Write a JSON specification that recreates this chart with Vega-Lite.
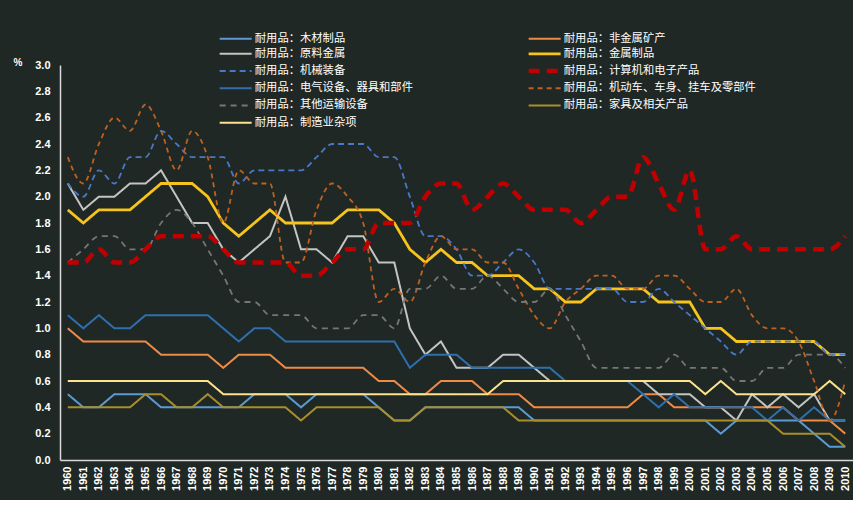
{
"$schema":"https://vega.github.io/schema/vega-lite/v6.json",
"width":793,"height":395,
"autosize":{"type":"none"},
"padding":{"left":60,"top":65,"right":0,"bottom":40},
"background":"#1f2824",
"config":{"view":{"stroke":null},"font":"Noto Sans CJK SC","axis":{"labelFont":"Liberation Sans"}},
"data":{"values":[
{"year":1960,"s":"耐用品：木材制品","v":0.5},{"year":1961,"s":"耐用品：木材制品","v":0.4},{"year":1962,"s":"耐用品：木材制品","v":0.4},{"year":1963,"s":"耐用品：木材制品","v":0.5},{"year":1964,"s":"耐用品：木材制品","v":0.5},{"year":1965,"s":"耐用品：木材制品","v":0.5},{"year":1966,"s":"耐用品：木材制品","v":0.4},{"year":1967,"s":"耐用品：木材制品","v":0.4},{"year":1968,"s":"耐用品：木材制品","v":0.4},{"year":1969,"s":"耐用品：木材制品","v":0.4},{"year":1970,"s":"耐用品：木材制品","v":0.4},{"year":1971,"s":"耐用品：木材制品","v":0.4},{"year":1972,"s":"耐用品：木材制品","v":0.5},{"year":1973,"s":"耐用品：木材制品","v":0.5},{"year":1974,"s":"耐用品：木材制品","v":0.5},{"year":1975,"s":"耐用品：木材制品","v":0.4},{"year":1976,"s":"耐用品：木材制品","v":0.5},{"year":1977,"s":"耐用品：木材制品","v":0.5},{"year":1978,"s":"耐用品：木材制品","v":0.5},{"year":1979,"s":"耐用品：木材制品","v":0.5},{"year":1980,"s":"耐用品：木材制品","v":0.4},{"year":1981,"s":"耐用品：木材制品","v":0.3},{"year":1982,"s":"耐用品：木材制品","v":0.3},{"year":1983,"s":"耐用品：木材制品","v":0.4},{"year":1984,"s":"耐用品：木材制品","v":0.4},{"year":1985,"s":"耐用品：木材制品","v":0.4},{"year":1986,"s":"耐用品：木材制品","v":0.4},{"year":1987,"s":"耐用品：木材制品","v":0.4},{"year":1988,"s":"耐用品：木材制品","v":0.4},{"year":1989,"s":"耐用品：木材制品","v":0.4},{"year":1990,"s":"耐用品：木材制品","v":0.3},{"year":1991,"s":"耐用品：木材制品","v":0.3},{"year":1992,"s":"耐用品：木材制品","v":0.3},{"year":1993,"s":"耐用品：木材制品","v":0.3},{"year":1994,"s":"耐用品：木材制品","v":0.3},{"year":1995,"s":"耐用品：木材制品","v":0.3},{"year":1996,"s":"耐用品：木材制品","v":0.3},{"year":1997,"s":"耐用品：木材制品","v":0.3},{"year":1998,"s":"耐用品：木材制品","v":0.3},{"year":1999,"s":"耐用品：木材制品","v":0.3},{"year":2000,"s":"耐用品：木材制品","v":0.3},{"year":2001,"s":"耐用品：木材制品","v":0.3},{"year":2002,"s":"耐用品：木材制品","v":0.2},{"year":2003,"s":"耐用品：木材制品","v":0.3},{"year":2004,"s":"耐用品：木材制品","v":0.3},{"year":2005,"s":"耐用品：木材制品","v":0.3},{"year":2006,"s":"耐用品：木材制品","v":0.3},{"year":2007,"s":"耐用品：木材制品","v":0.3},{"year":2008,"s":"耐用品：木材制品","v":0.2},{"year":2009,"s":"耐用品：木材制品","v":0.1},{"year":2010,"s":"耐用品：木材制品","v":0.1},
{"year":1960,"s":"耐用品：非金属矿产","v":1.0},{"year":1961,"s":"耐用品：非金属矿产","v":0.9},{"year":1962,"s":"耐用品：非金属矿产","v":0.9},{"year":1963,"s":"耐用品：非金属矿产","v":0.9},{"year":1964,"s":"耐用品：非金属矿产","v":0.9},{"year":1965,"s":"耐用品：非金属矿产","v":0.9},{"year":1966,"s":"耐用品：非金属矿产","v":0.8},{"year":1967,"s":"耐用品：非金属矿产","v":0.8},{"year":1968,"s":"耐用品：非金属矿产","v":0.8},{"year":1969,"s":"耐用品：非金属矿产","v":0.8},{"year":1970,"s":"耐用品：非金属矿产","v":0.7},{"year":1971,"s":"耐用品：非金属矿产","v":0.8},{"year":1972,"s":"耐用品：非金属矿产","v":0.8},{"year":1973,"s":"耐用品：非金属矿产","v":0.8},{"year":1974,"s":"耐用品：非金属矿产","v":0.7},{"year":1975,"s":"耐用品：非金属矿产","v":0.7},{"year":1976,"s":"耐用品：非金属矿产","v":0.7},{"year":1977,"s":"耐用品：非金属矿产","v":0.7},{"year":1978,"s":"耐用品：非金属矿产","v":0.7},{"year":1979,"s":"耐用品：非金属矿产","v":0.7},{"year":1980,"s":"耐用品：非金属矿产","v":0.6},{"year":1981,"s":"耐用品：非金属矿产","v":0.6},{"year":1982,"s":"耐用品：非金属矿产","v":0.5},{"year":1983,"s":"耐用品：非金属矿产","v":0.5},{"year":1984,"s":"耐用品：非金属矿产","v":0.6},{"year":1985,"s":"耐用品：非金属矿产","v":0.6},{"year":1986,"s":"耐用品：非金属矿产","v":0.6},{"year":1987,"s":"耐用品：非金属矿产","v":0.5},{"year":1988,"s":"耐用品：非金属矿产","v":0.5},{"year":1989,"s":"耐用品：非金属矿产","v":0.5},{"year":1990,"s":"耐用品：非金属矿产","v":0.4},{"year":1991,"s":"耐用品：非金属矿产","v":0.4},{"year":1992,"s":"耐用品：非金属矿产","v":0.4},{"year":1993,"s":"耐用品：非金属矿产","v":0.4},{"year":1994,"s":"耐用品：非金属矿产","v":0.4},{"year":1995,"s":"耐用品：非金属矿产","v":0.4},{"year":1996,"s":"耐用品：非金属矿产","v":0.4},{"year":1997,"s":"耐用品：非金属矿产","v":0.5},{"year":1998,"s":"耐用品：非金属矿产","v":0.5},{"year":1999,"s":"耐用品：非金属矿产","v":0.4},{"year":2000,"s":"耐用品：非金属矿产","v":0.4},{"year":2001,"s":"耐用品：非金属矿产","v":0.4},{"year":2002,"s":"耐用品：非金属矿产","v":0.4},{"year":2003,"s":"耐用品：非金属矿产","v":0.4},{"year":2004,"s":"耐用品：非金属矿产","v":0.4},{"year":2005,"s":"耐用品：非金属矿产","v":0.4},{"year":2006,"s":"耐用品：非金属矿产","v":0.4},{"year":2007,"s":"耐用品：非金属矿产","v":0.3},{"year":2008,"s":"耐用品：非金属矿产","v":0.3},{"year":2009,"s":"耐用品：非金属矿产","v":0.3},{"year":2010,"s":"耐用品：非金属矿产","v":0.2},
{"year":1960,"s":"耐用品：原料金属","v":2.1},{"year":1961,"s":"耐用品：原料金属","v":1.9},{"year":1962,"s":"耐用品：原料金属","v":2.0},{"year":1963,"s":"耐用品：原料金属","v":2.0},{"year":1964,"s":"耐用品：原料金属","v":2.1},{"year":1965,"s":"耐用品：原料金属","v":2.1},{"year":1966,"s":"耐用品：原料金属","v":2.2},{"year":1967,"s":"耐用品：原料金属","v":2.0},{"year":1968,"s":"耐用品：原料金属","v":1.8},{"year":1969,"s":"耐用品：原料金属","v":1.8},{"year":1970,"s":"耐用品：原料金属","v":1.6},{"year":1971,"s":"耐用品：原料金属","v":1.5},{"year":1972,"s":"耐用品：原料金属","v":1.6},{"year":1973,"s":"耐用品：原料金属","v":1.7},{"year":1974,"s":"耐用品：原料金属","v":2.0},{"year":1975,"s":"耐用品：原料金属","v":1.6},{"year":1976,"s":"耐用品：原料金属","v":1.6},{"year":1977,"s":"耐用品：原料金属","v":1.5},{"year":1978,"s":"耐用品：原料金属","v":1.7},{"year":1979,"s":"耐用品：原料金属","v":1.7},{"year":1980,"s":"耐用品：原料金属","v":1.5},{"year":1981,"s":"耐用品：原料金属","v":1.5},{"year":1982,"s":"耐用品：原料金属","v":1.0},{"year":1983,"s":"耐用品：原料金属","v":0.8},{"year":1984,"s":"耐用品：原料金属","v":0.9},{"year":1985,"s":"耐用品：原料金属","v":0.7},{"year":1986,"s":"耐用品：原料金属","v":0.7},{"year":1987,"s":"耐用品：原料金属","v":0.7},{"year":1988,"s":"耐用品：原料金属","v":0.8},{"year":1989,"s":"耐用品：原料金属","v":0.8},{"year":1990,"s":"耐用品：原料金属","v":0.7},{"year":1991,"s":"耐用品：原料金属","v":0.6},{"year":1992,"s":"耐用品：原料金属","v":0.6},{"year":1993,"s":"耐用品：原料金属","v":0.6},{"year":1994,"s":"耐用品：原料金属","v":0.6},{"year":1995,"s":"耐用品：原料金属","v":0.6},{"year":1996,"s":"耐用品：原料金属","v":0.6},{"year":1997,"s":"耐用品：原料金属","v":0.6},{"year":1998,"s":"耐用品：原料金属","v":0.5},{"year":1999,"s":"耐用品：原料金属","v":0.5},{"year":2000,"s":"耐用品：原料金属","v":0.5},{"year":2001,"s":"耐用品：原料金属","v":0.4},{"year":2002,"s":"耐用品：原料金属","v":0.4},{"year":2003,"s":"耐用品：原料金属","v":0.3},{"year":2004,"s":"耐用品：原料金属","v":0.5},{"year":2005,"s":"耐用品：原料金属","v":0.4},{"year":2006,"s":"耐用品：原料金属","v":0.5},{"year":2007,"s":"耐用品：原料金属","v":0.4},{"year":2008,"s":"耐用品：原料金属","v":0.5},{"year":2009,"s":"耐用品：原料金属","v":0.3},{"year":2010,"s":"耐用品：原料金属","v":0.3},
{"year":1960,"s":"耐用品：金属制品","v":1.9},{"year":1961,"s":"耐用品：金属制品","v":1.8},{"year":1962,"s":"耐用品：金属制品","v":1.9},{"year":1963,"s":"耐用品：金属制品","v":1.9},{"year":1964,"s":"耐用品：金属制品","v":1.9},{"year":1965,"s":"耐用品：金属制品","v":2.0},{"year":1966,"s":"耐用品：金属制品","v":2.1},{"year":1967,"s":"耐用品：金属制品","v":2.1},{"year":1968,"s":"耐用品：金属制品","v":2.1},{"year":1969,"s":"耐用品：金属制品","v":2.0},{"year":1970,"s":"耐用品：金属制品","v":1.8},{"year":1971,"s":"耐用品：金属制品","v":1.7},{"year":1972,"s":"耐用品：金属制品","v":1.8},{"year":1973,"s":"耐用品：金属制品","v":1.9},{"year":1974,"s":"耐用品：金属制品","v":1.8},{"year":1975,"s":"耐用品：金属制品","v":1.8},{"year":1976,"s":"耐用品：金属制品","v":1.8},{"year":1977,"s":"耐用品：金属制品","v":1.8},{"year":1978,"s":"耐用品：金属制品","v":1.9},{"year":1979,"s":"耐用品：金属制品","v":1.9},{"year":1980,"s":"耐用品：金属制品","v":1.9},{"year":1981,"s":"耐用品：金属制品","v":1.8},{"year":1982,"s":"耐用品：金属制品","v":1.6},{"year":1983,"s":"耐用品：金属制品","v":1.5},{"year":1984,"s":"耐用品：金属制品","v":1.6},{"year":1985,"s":"耐用品：金属制品","v":1.5},{"year":1986,"s":"耐用品：金属制品","v":1.5},{"year":1987,"s":"耐用品：金属制品","v":1.4},{"year":1988,"s":"耐用品：金属制品","v":1.4},{"year":1989,"s":"耐用品：金属制品","v":1.4},{"year":1990,"s":"耐用品：金属制品","v":1.3},{"year":1991,"s":"耐用品：金属制品","v":1.3},{"year":1992,"s":"耐用品：金属制品","v":1.2},{"year":1993,"s":"耐用品：金属制品","v":1.2},{"year":1994,"s":"耐用品：金属制品","v":1.3},{"year":1995,"s":"耐用品：金属制品","v":1.3},{"year":1996,"s":"耐用品：金属制品","v":1.3},{"year":1997,"s":"耐用品：金属制品","v":1.3},{"year":1998,"s":"耐用品：金属制品","v":1.2},{"year":1999,"s":"耐用品：金属制品","v":1.2},{"year":2000,"s":"耐用品：金属制品","v":1.2},{"year":2001,"s":"耐用品：金属制品","v":1.0},{"year":2002,"s":"耐用品：金属制品","v":1.0},{"year":2003,"s":"耐用品：金属制品","v":0.9},{"year":2004,"s":"耐用品：金属制品","v":0.9},{"year":2005,"s":"耐用品：金属制品","v":0.9},{"year":2006,"s":"耐用品：金属制品","v":0.9},{"year":2007,"s":"耐用品：金属制品","v":0.9},{"year":2008,"s":"耐用品：金属制品","v":0.9},{"year":2009,"s":"耐用品：金属制品","v":0.8},{"year":2010,"s":"耐用品：金属制品","v":0.8},
{"year":1960,"s":"耐用品：机械装备","v":2.1},{"year":1961,"s":"耐用品：机械装备","v":2.0},{"year":1962,"s":"耐用品：机械装备","v":2.2},{"year":1963,"s":"耐用品：机械装备","v":2.1},{"year":1964,"s":"耐用品：机械装备","v":2.3},{"year":1965,"s":"耐用品：机械装备","v":2.3},{"year":1966,"s":"耐用品：机械装备","v":2.5},{"year":1967,"s":"耐用品：机械装备","v":2.4},{"year":1968,"s":"耐用品：机械装备","v":2.3},{"year":1969,"s":"耐用品：机械装备","v":2.3},{"year":1970,"s":"耐用品：机械装备","v":2.3},{"year":1971,"s":"耐用品：机械装备","v":2.1},{"year":1972,"s":"耐用品：机械装备","v":2.2},{"year":1973,"s":"耐用品：机械装备","v":2.2},{"year":1974,"s":"耐用品：机械装备","v":2.2},{"year":1975,"s":"耐用品：机械装备","v":2.2},{"year":1976,"s":"耐用品：机械装备","v":2.3},{"year":1977,"s":"耐用品：机械装备","v":2.4},{"year":1978,"s":"耐用品：机械装备","v":2.4},{"year":1979,"s":"耐用品：机械装备","v":2.4},{"year":1980,"s":"耐用品：机械装备","v":2.3},{"year":1981,"s":"耐用品：机械装备","v":2.3},{"year":1982,"s":"耐用品：机械装备","v":2.0},{"year":1983,"s":"耐用品：机械装备","v":1.7},{"year":1984,"s":"耐用品：机械装备","v":1.7},{"year":1985,"s":"耐用品：机械装备","v":1.6},{"year":1986,"s":"耐用品：机械装备","v":1.4},{"year":1987,"s":"耐用品：机械装备","v":1.4},{"year":1988,"s":"耐用品：机械装备","v":1.5},{"year":1989,"s":"耐用品：机械装备","v":1.6},{"year":1990,"s":"耐用品：机械装备","v":1.5},{"year":1991,"s":"耐用品：机械装备","v":1.3},{"year":1992,"s":"耐用品：机械装备","v":1.3},{"year":1993,"s":"耐用品：机械装备","v":1.3},{"year":1994,"s":"耐用品：机械装备","v":1.3},{"year":1995,"s":"耐用品：机械装备","v":1.3},{"year":1996,"s":"耐用品：机械装备","v":1.2},{"year":1997,"s":"耐用品：机械装备","v":1.2},{"year":1998,"s":"耐用品：机械装备","v":1.3},{"year":1999,"s":"耐用品：机械装备","v":1.2},{"year":2000,"s":"耐用品：机械装备","v":1.1},{"year":2001,"s":"耐用品：机械装备","v":1.0},{"year":2002,"s":"耐用品：机械装备","v":0.9},{"year":2003,"s":"耐用品：机械装备","v":0.8},{"year":2004,"s":"耐用品：机械装备","v":0.9},{"year":2005,"s":"耐用品：机械装备","v":0.9},{"year":2006,"s":"耐用品：机械装备","v":0.9},{"year":2007,"s":"耐用品：机械装备","v":0.9},{"year":2008,"s":"耐用品：机械装备","v":0.9},{"year":2009,"s":"耐用品：机械装备","v":0.8},{"year":2010,"s":"耐用品：机械装备","v":0.8},
{"year":1960,"s":"耐用品：计算机和电子产品","v":1.5},{"year":1961,"s":"耐用品：计算机和电子产品","v":1.5},{"year":1962,"s":"耐用品：计算机和电子产品","v":1.6},{"year":1963,"s":"耐用品：计算机和电子产品","v":1.5},{"year":1964,"s":"耐用品：计算机和电子产品","v":1.5},{"year":1965,"s":"耐用品：计算机和电子产品","v":1.6},{"year":1966,"s":"耐用品：计算机和电子产品","v":1.7},{"year":1967,"s":"耐用品：计算机和电子产品","v":1.7},{"year":1968,"s":"耐用品：计算机和电子产品","v":1.7},{"year":1969,"s":"耐用品：计算机和电子产品","v":1.7},{"year":1970,"s":"耐用品：计算机和电子产品","v":1.6},{"year":1971,"s":"耐用品：计算机和电子产品","v":1.5},{"year":1972,"s":"耐用品：计算机和电子产品","v":1.5},{"year":1973,"s":"耐用品：计算机和电子产品","v":1.5},{"year":1974,"s":"耐用品：计算机和电子产品","v":1.5},{"year":1975,"s":"耐用品：计算机和电子产品","v":1.4},{"year":1976,"s":"耐用品：计算机和电子产品","v":1.4},{"year":1977,"s":"耐用品：计算机和电子产品","v":1.5},{"year":1978,"s":"耐用品：计算机和电子产品","v":1.6},{"year":1979,"s":"耐用品：计算机和电子产品","v":1.6},{"year":1980,"s":"耐用品：计算机和电子产品","v":1.8},{"year":1981,"s":"耐用品：计算机和电子产品","v":1.8},{"year":1982,"s":"耐用品：计算机和电子产品","v":1.8},{"year":1983,"s":"耐用品：计算机和电子产品","v":2.0},{"year":1984,"s":"耐用品：计算机和电子产品","v":2.1},{"year":1985,"s":"耐用品：计算机和电子产品","v":2.1},{"year":1986,"s":"耐用品：计算机和电子产品","v":1.9},{"year":1987,"s":"耐用品：计算机和电子产品","v":2.0},{"year":1988,"s":"耐用品：计算机和电子产品","v":2.1},{"year":1989,"s":"耐用品：计算机和电子产品","v":2.0},{"year":1990,"s":"耐用品：计算机和电子产品","v":1.9},{"year":1991,"s":"耐用品：计算机和电子产品","v":1.9},{"year":1992,"s":"耐用品：计算机和电子产品","v":1.9},{"year":1993,"s":"耐用品：计算机和电子产品","v":1.8},{"year":1994,"s":"耐用品：计算机和电子产品","v":1.9},{"year":1995,"s":"耐用品：计算机和电子产品","v":2.0},{"year":1996,"s":"耐用品：计算机和电子产品","v":2.0},{"year":1997,"s":"耐用品：计算机和电子产品","v":2.3},{"year":1998,"s":"耐用品：计算机和电子产品","v":2.1},{"year":1999,"s":"耐用品：计算机和电子产品","v":1.9},{"year":2000,"s":"耐用品：计算机和电子产品","v":2.2},{"year":2001,"s":"耐用品：计算机和电子产品","v":1.6},{"year":2002,"s":"耐用品：计算机和电子产品","v":1.6},{"year":2003,"s":"耐用品：计算机和电子产品","v":1.7},{"year":2004,"s":"耐用品：计算机和电子产品","v":1.6},{"year":2005,"s":"耐用品：计算机和电子产品","v":1.6},{"year":2006,"s":"耐用品：计算机和电子产品","v":1.6},{"year":2007,"s":"耐用品：计算机和电子产品","v":1.6},{"year":2008,"s":"耐用品：计算机和电子产品","v":1.6},{"year":2009,"s":"耐用品：计算机和电子产品","v":1.6},{"year":2010,"s":"耐用品：计算机和电子产品","v":1.7},
{"year":1960,"s":"耐用品：电气设备、器具和部件","v":1.1},{"year":1961,"s":"耐用品：电气设备、器具和部件","v":1.0},{"year":1962,"s":"耐用品：电气设备、器具和部件","v":1.1},{"year":1963,"s":"耐用品：电气设备、器具和部件","v":1.0},{"year":1964,"s":"耐用品：电气设备、器具和部件","v":1.0},{"year":1965,"s":"耐用品：电气设备、器具和部件","v":1.1},{"year":1966,"s":"耐用品：电气设备、器具和部件","v":1.1},{"year":1967,"s":"耐用品：电气设备、器具和部件","v":1.1},{"year":1968,"s":"耐用品：电气设备、器具和部件","v":1.1},{"year":1969,"s":"耐用品：电气设备、器具和部件","v":1.1},{"year":1970,"s":"耐用品：电气设备、器具和部件","v":1.0},{"year":1971,"s":"耐用品：电气设备、器具和部件","v":0.9},{"year":1972,"s":"耐用品：电气设备、器具和部件","v":1.0},{"year":1973,"s":"耐用品：电气设备、器具和部件","v":1.0},{"year":1974,"s":"耐用品：电气设备、器具和部件","v":0.9},{"year":1975,"s":"耐用品：电气设备、器具和部件","v":0.9},{"year":1976,"s":"耐用品：电气设备、器具和部件","v":0.9},{"year":1977,"s":"耐用品：电气设备、器具和部件","v":0.9},{"year":1978,"s":"耐用品：电气设备、器具和部件","v":0.9},{"year":1979,"s":"耐用品：电气设备、器具和部件","v":0.9},{"year":1980,"s":"耐用品：电气设备、器具和部件","v":0.9},{"year":1981,"s":"耐用品：电气设备、器具和部件","v":0.9},{"year":1982,"s":"耐用品：电气设备、器具和部件","v":0.7},{"year":1983,"s":"耐用品：电气设备、器具和部件","v":0.8},{"year":1984,"s":"耐用品：电气设备、器具和部件","v":0.8},{"year":1985,"s":"耐用品：电气设备、器具和部件","v":0.8},{"year":1986,"s":"耐用品：电气设备、器具和部件","v":0.7},{"year":1987,"s":"耐用品：电气设备、器具和部件","v":0.7},{"year":1988,"s":"耐用品：电气设备、器具和部件","v":0.7},{"year":1989,"s":"耐用品：电气设备、器具和部件","v":0.7},{"year":1990,"s":"耐用品：电气设备、器具和部件","v":0.7},{"year":1991,"s":"耐用品：电气设备、器具和部件","v":0.7},{"year":1992,"s":"耐用品：电气设备、器具和部件","v":0.6},{"year":1993,"s":"耐用品：电气设备、器具和部件","v":0.6},{"year":1994,"s":"耐用品：电气设备、器具和部件","v":0.6},{"year":1995,"s":"耐用品：电气设备、器具和部件","v":0.6},{"year":1996,"s":"耐用品：电气设备、器具和部件","v":0.6},{"year":1997,"s":"耐用品：电气设备、器具和部件","v":0.5},{"year":1998,"s":"耐用品：电气设备、器具和部件","v":0.4},{"year":1999,"s":"耐用品：电气设备、器具和部件","v":0.5},{"year":2000,"s":"耐用品：电气设备、器具和部件","v":0.4},{"year":2001,"s":"耐用品：电气设备、器具和部件","v":0.4},{"year":2002,"s":"耐用品：电气设备、器具和部件","v":0.4},{"year":2003,"s":"耐用品：电气设备、器具和部件","v":0.4},{"year":2004,"s":"耐用品：电气设备、器具和部件","v":0.4},{"year":2005,"s":"耐用品：电气设备、器具和部件","v":0.3},{"year":2006,"s":"耐用品：电气设备、器具和部件","v":0.4},{"year":2007,"s":"耐用品：电气设备、器具和部件","v":0.3},{"year":2008,"s":"耐用品：电气设备、器具和部件","v":0.4},{"year":2009,"s":"耐用品：电气设备、器具和部件","v":0.3},{"year":2010,"s":"耐用品：电气设备、器具和部件","v":0.3},
{"year":1960,"s":"耐用品：机动车、车身、挂车及零部件","v":2.3},{"year":1961,"s":"耐用品：机动车、车身、挂车及零部件","v":2.1},{"year":1962,"s":"耐用品：机动车、车身、挂车及零部件","v":2.4},{"year":1963,"s":"耐用品：机动车、车身、挂车及零部件","v":2.6},{"year":1964,"s":"耐用品：机动车、车身、挂车及零部件","v":2.5},{"year":1965,"s":"耐用品：机动车、车身、挂车及零部件","v":2.7},{"year":1966,"s":"耐用品：机动车、车身、挂车及零部件","v":2.5},{"year":1967,"s":"耐用品：机动车、车身、挂车及零部件","v":2.2},{"year":1968,"s":"耐用品：机动车、车身、挂车及零部件","v":2.5},{"year":1969,"s":"耐用品：机动车、车身、挂车及零部件","v":2.3},{"year":1970,"s":"耐用品：机动车、车身、挂车及零部件","v":1.8},{"year":1971,"s":"耐用品：机动车、车身、挂车及零部件","v":2.2},{"year":1972,"s":"耐用品：机动车、车身、挂车及零部件","v":2.1},{"year":1973,"s":"耐用品：机动车、车身、挂车及零部件","v":2.1},{"year":1974,"s":"耐用品：机动车、车身、挂车及零部件","v":1.5},{"year":1975,"s":"耐用品：机动车、车身、挂车及零部件","v":1.5},{"year":1976,"s":"耐用品：机动车、车身、挂车及零部件","v":1.9},{"year":1977,"s":"耐用品：机动车、车身、挂车及零部件","v":2.1},{"year":1978,"s":"耐用品：机动车、车身、挂车及零部件","v":2.0},{"year":1979,"s":"耐用品：机动车、车身、挂车及零部件","v":1.8},{"year":1980,"s":"耐用品：机动车、车身、挂车及零部件","v":1.2},{"year":1981,"s":"耐用品：机动车、车身、挂车及零部件","v":1.3},{"year":1982,"s":"耐用品：机动车、车身、挂车及零部件","v":1.2},{"year":1983,"s":"耐用品：机动车、车身、挂车及零部件","v":1.5},{"year":1984,"s":"耐用品：机动车、车身、挂车及零部件","v":1.7},{"year":1985,"s":"耐用品：机动车、车身、挂车及零部件","v":1.6},{"year":1986,"s":"耐用品：机动车、车身、挂车及零部件","v":1.6},{"year":1987,"s":"耐用品：机动车、车身、挂车及零部件","v":1.5},{"year":1988,"s":"耐用品：机动车、车身、挂车及零部件","v":1.5},{"year":1989,"s":"耐用品：机动车、车身、挂车及零部件","v":1.3},{"year":1990,"s":"耐用品：机动车、车身、挂车及零部件","v":1.1},{"year":1991,"s":"耐用品：机动车、车身、挂车及零部件","v":1.0},{"year":1992,"s":"耐用品：机动车、车身、挂车及零部件","v":1.2},{"year":1993,"s":"耐用品：机动车、车身、挂车及零部件","v":1.3},{"year":1994,"s":"耐用品：机动车、车身、挂车及零部件","v":1.4},{"year":1995,"s":"耐用品：机动车、车身、挂车及零部件","v":1.4},{"year":1996,"s":"耐用品：机动车、车身、挂车及零部件","v":1.3},{"year":1997,"s":"耐用品：机动车、车身、挂车及零部件","v":1.3},{"year":1998,"s":"耐用品：机动车、车身、挂车及零部件","v":1.4},{"year":1999,"s":"耐用品：机动车、车身、挂车及零部件","v":1.4},{"year":2000,"s":"耐用品：机动车、车身、挂车及零部件","v":1.3},{"year":2001,"s":"耐用品：机动车、车身、挂车及零部件","v":1.2},{"year":2002,"s":"耐用品：机动车、车身、挂车及零部件","v":1.2},{"year":2003,"s":"耐用品：机动车、车身、挂车及零部件","v":1.3},{"year":2004,"s":"耐用品：机动车、车身、挂车及零部件","v":1.1},{"year":2005,"s":"耐用品：机动车、车身、挂车及零部件","v":1.0},{"year":2006,"s":"耐用品：机动车、车身、挂车及零部件","v":1.0},{"year":2007,"s":"耐用品：机动车、车身、挂车及零部件","v":0.9},{"year":2008,"s":"耐用品：机动车、车身、挂车及零部件","v":0.6},{"year":2009,"s":"耐用品：机动车、车身、挂车及零部件","v":0.3},{"year":2010,"s":"耐用品：机动车、车身、挂车及零部件","v":0.6},
{"year":1960,"s":"耐用品：其他运输设备","v":1.5},{"year":1961,"s":"耐用品：其他运输设备","v":1.6},{"year":1962,"s":"耐用品：其他运输设备","v":1.7},{"year":1963,"s":"耐用品：其他运输设备","v":1.7},{"year":1964,"s":"耐用品：其他运输设备","v":1.6},{"year":1965,"s":"耐用品：其他运输设备","v":1.6},{"year":1966,"s":"耐用品：其他运输设备","v":1.8},{"year":1967,"s":"耐用品：其他运输设备","v":1.9},{"year":1968,"s":"耐用品：其他运输设备","v":1.8},{"year":1969,"s":"耐用品：其他运输设备","v":1.6},{"year":1970,"s":"耐用品：其他运输设备","v":1.4},{"year":1971,"s":"耐用品：其他运输设备","v":1.2},{"year":1972,"s":"耐用品：其他运输设备","v":1.2},{"year":1973,"s":"耐用品：其他运输设备","v":1.1},{"year":1974,"s":"耐用品：其他运输设备","v":1.1},{"year":1975,"s":"耐用品：其他运输设备","v":1.1},{"year":1976,"s":"耐用品：其他运输设备","v":1.0},{"year":1977,"s":"耐用品：其他运输设备","v":1.0},{"year":1978,"s":"耐用品：其他运输设备","v":1.0},{"year":1979,"s":"耐用品：其他运输设备","v":1.1},{"year":1980,"s":"耐用品：其他运输设备","v":1.1},{"year":1981,"s":"耐用品：其他运输设备","v":1.0},{"year":1982,"s":"耐用品：其他运输设备","v":1.3},{"year":1983,"s":"耐用品：其他运输设备","v":1.3},{"year":1984,"s":"耐用品：其他运输设备","v":1.4},{"year":1985,"s":"耐用品：其他运输设备","v":1.3},{"year":1986,"s":"耐用品：其他运输设备","v":1.3},{"year":1987,"s":"耐用品：其他运输设备","v":1.4},{"year":1988,"s":"耐用品：其他运输设备","v":1.3},{"year":1989,"s":"耐用品：其他运输设备","v":1.2},{"year":1990,"s":"耐用品：其他运输设备","v":1.2},{"year":1991,"s":"耐用品：其他运输设备","v":1.3},{"year":1992,"s":"耐用品：其他运输设备","v":1.1},{"year":1993,"s":"耐用品：其他运输设备","v":0.9},{"year":1994,"s":"耐用品：其他运输设备","v":0.7},{"year":1995,"s":"耐用品：其他运输设备","v":0.7},{"year":1996,"s":"耐用品：其他运输设备","v":0.7},{"year":1997,"s":"耐用品：其他运输设备","v":0.7},{"year":1998,"s":"耐用品：其他运输设备","v":0.7},{"year":1999,"s":"耐用品：其他运输设备","v":0.8},{"year":2000,"s":"耐用品：其他运输设备","v":0.7},{"year":2001,"s":"耐用品：其他运输设备","v":0.7},{"year":2002,"s":"耐用品：其他运输设备","v":0.7},{"year":2003,"s":"耐用品：其他运输设备","v":0.6},{"year":2004,"s":"耐用品：其他运输设备","v":0.6},{"year":2005,"s":"耐用品：其他运输设备","v":0.7},{"year":2006,"s":"耐用品：其他运输设备","v":0.7},{"year":2007,"s":"耐用品：其他运输设备","v":0.8},{"year":2008,"s":"耐用品：其他运输设备","v":0.8},{"year":2009,"s":"耐用品：其他运输设备","v":0.8},{"year":2010,"s":"耐用品：其他运输设备","v":0.7},
{"year":1960,"s":"耐用品：家具及相关产品","v":0.4},{"year":1961,"s":"耐用品：家具及相关产品","v":0.4},{"year":1962,"s":"耐用品：家具及相关产品","v":0.4},{"year":1963,"s":"耐用品：家具及相关产品","v":0.4},{"year":1964,"s":"耐用品：家具及相关产品","v":0.4},{"year":1965,"s":"耐用品：家具及相关产品","v":0.5},{"year":1966,"s":"耐用品：家具及相关产品","v":0.5},{"year":1967,"s":"耐用品：家具及相关产品","v":0.4},{"year":1968,"s":"耐用品：家具及相关产品","v":0.4},{"year":1969,"s":"耐用品：家具及相关产品","v":0.5},{"year":1970,"s":"耐用品：家具及相关产品","v":0.4},{"year":1971,"s":"耐用品：家具及相关产品","v":0.4},{"year":1972,"s":"耐用品：家具及相关产品","v":0.4},{"year":1973,"s":"耐用品：家具及相关产品","v":0.4},{"year":1974,"s":"耐用品：家具及相关产品","v":0.4},{"year":1975,"s":"耐用品：家具及相关产品","v":0.3},{"year":1976,"s":"耐用品：家具及相关产品","v":0.4},{"year":1977,"s":"耐用品：家具及相关产品","v":0.4},{"year":1978,"s":"耐用品：家具及相关产品","v":0.4},{"year":1979,"s":"耐用品：家具及相关产品","v":0.4},{"year":1980,"s":"耐用品：家具及相关产品","v":0.4},{"year":1981,"s":"耐用品：家具及相关产品","v":0.3},{"year":1982,"s":"耐用品：家具及相关产品","v":0.3},{"year":1983,"s":"耐用品：家具及相关产品","v":0.4},{"year":1984,"s":"耐用品：家具及相关产品","v":0.4},{"year":1985,"s":"耐用品：家具及相关产品","v":0.4},{"year":1986,"s":"耐用品：家具及相关产品","v":0.4},{"year":1987,"s":"耐用品：家具及相关产品","v":0.4},{"year":1988,"s":"耐用品：家具及相关产品","v":0.4},{"year":1989,"s":"耐用品：家具及相关产品","v":0.3},{"year":1990,"s":"耐用品：家具及相关产品","v":0.3},{"year":1991,"s":"耐用品：家具及相关产品","v":0.3},{"year":1992,"s":"耐用品：家具及相关产品","v":0.3},{"year":1993,"s":"耐用品：家具及相关产品","v":0.3},{"year":1994,"s":"耐用品：家具及相关产品","v":0.3},{"year":1995,"s":"耐用品：家具及相关产品","v":0.3},{"year":1996,"s":"耐用品：家具及相关产品","v":0.3},{"year":1997,"s":"耐用品：家具及相关产品","v":0.3},{"year":1998,"s":"耐用品：家具及相关产品","v":0.3},{"year":1999,"s":"耐用品：家具及相关产品","v":0.3},{"year":2000,"s":"耐用品：家具及相关产品","v":0.3},{"year":2001,"s":"耐用品：家具及相关产品","v":0.3},{"year":2002,"s":"耐用品：家具及相关产品","v":0.3},{"year":2003,"s":"耐用品：家具及相关产品","v":0.3},{"year":2004,"s":"耐用品：家具及相关产品","v":0.3},{"year":2005,"s":"耐用品：家具及相关产品","v":0.3},{"year":2006,"s":"耐用品：家具及相关产品","v":0.2},{"year":2007,"s":"耐用品：家具及相关产品","v":0.2},{"year":2008,"s":"耐用品：家具及相关产品","v":0.2},{"year":2009,"s":"耐用品：家具及相关产品","v":0.2},{"year":2010,"s":"耐用品：家具及相关产品","v":0.1},
{"year":1960,"s":"耐用品：制造业杂项","v":0.6},{"year":1961,"s":"耐用品：制造业杂项","v":0.6},{"year":1962,"s":"耐用品：制造业杂项","v":0.6},{"year":1963,"s":"耐用品：制造业杂项","v":0.6},{"year":1964,"s":"耐用品：制造业杂项","v":0.6},{"year":1965,"s":"耐用品：制造业杂项","v":0.6},{"year":1966,"s":"耐用品：制造业杂项","v":0.6},{"year":1967,"s":"耐用品：制造业杂项","v":0.6},{"year":1968,"s":"耐用品：制造业杂项","v":0.6},{"year":1969,"s":"耐用品：制造业杂项","v":0.6},{"year":1970,"s":"耐用品：制造业杂项","v":0.5},{"year":1971,"s":"耐用品：制造业杂项","v":0.5},{"year":1972,"s":"耐用品：制造业杂项","v":0.5},{"year":1973,"s":"耐用品：制造业杂项","v":0.5},{"year":1974,"s":"耐用品：制造业杂项","v":0.5},{"year":1975,"s":"耐用品：制造业杂项","v":0.5},{"year":1976,"s":"耐用品：制造业杂项","v":0.5},{"year":1977,"s":"耐用品：制造业杂项","v":0.5},{"year":1978,"s":"耐用品：制造业杂项","v":0.5},{"year":1979,"s":"耐用品：制造业杂项","v":0.5},{"year":1980,"s":"耐用品：制造业杂项","v":0.5},{"year":1981,"s":"耐用品：制造业杂项","v":0.5},{"year":1982,"s":"耐用品：制造业杂项","v":0.5},{"year":1983,"s":"耐用品：制造业杂项","v":0.5},{"year":1984,"s":"耐用品：制造业杂项","v":0.5},{"year":1985,"s":"耐用品：制造业杂项","v":0.5},{"year":1986,"s":"耐用品：制造业杂项","v":0.5},{"year":1987,"s":"耐用品：制造业杂项","v":0.5},{"year":1988,"s":"耐用品：制造业杂项","v":0.6},{"year":1989,"s":"耐用品：制造业杂项","v":0.6},{"year":1990,"s":"耐用品：制造业杂项","v":0.6},{"year":1991,"s":"耐用品：制造业杂项","v":0.6},{"year":1992,"s":"耐用品：制造业杂项","v":0.6},{"year":1993,"s":"耐用品：制造业杂项","v":0.6},{"year":1994,"s":"耐用品：制造业杂项","v":0.6},{"year":1995,"s":"耐用品：制造业杂项","v":0.6},{"year":1996,"s":"耐用品：制造业杂项","v":0.6},{"year":1997,"s":"耐用品：制造业杂项","v":0.6},{"year":1998,"s":"耐用品：制造业杂项","v":0.6},{"year":1999,"s":"耐用品：制造业杂项","v":0.6},{"year":2000,"s":"耐用品：制造业杂项","v":0.6},{"year":2001,"s":"耐用品：制造业杂项","v":0.5},{"year":2002,"s":"耐用品：制造业杂项","v":0.6},{"year":2003,"s":"耐用品：制造业杂项","v":0.5},{"year":2004,"s":"耐用品：制造业杂项","v":0.5},{"year":2005,"s":"耐用品：制造业杂项","v":0.5},{"year":2006,"s":"耐用品：制造业杂项","v":0.5},{"year":2007,"s":"耐用品：制造业杂项","v":0.5},{"year":2008,"s":"耐用品：制造业杂项","v":0.5},{"year":2009,"s":"耐用品：制造业杂项","v":0.6},{"year":2010,"s":"耐用品：制造业杂项","v":0.5}
]},
"encoding":{
"x":{"field":"year","type":"ordinal","scale":{"type":"point","padding":0.5},"axis":{"title":null,"labelAngle":270,"labelColor":"#ffffff","labelFontSize":11,"labelFontWeight":"bold","labelOverlap":false,"ticks":false,"labelPadding":6,"domainColor":"#d9d9d9","domainWidth":1.5,"grid":false}},
"y":{"field":"v","type":"quantitative","scale":{"domain":[0,3],"nice":false},"axis":{"title":"%","titleAngle":0,"titleX":-47,"titleY":-3,"titleAlign":"left","titleBaseline":"middle","titleColor":"#ffffff","titleFontSize":10,"titleFontWeight":"bold","titleFont":"Liberation Sans","values":[0,0.2,0.4,0.6,0.8,1.0,1.2,1.4,1.6,1.8,2.0,2.2,2.4,2.6,2.8,3.0],"format":".1f","labelColor":"#ffffff","labelFontSize":11,"labelFontWeight":"bold","ticks":false,"labelPadding":10,"domainColor":"#d9d9d9","domainWidth":1.5,"grid":false}},
"color":{"field":"s","type":"nominal","scale":{"domain":["耐用品：木材制品","耐用品：原料金属","耐用品：机械装备","耐用品：电气设备、器具和部件","耐用品：其他运输设备","耐用品：制造业杂项","耐用品：非金属矿产","耐用品：金属制品","耐用品：计算机和电子产品","耐用品：机动车、车身、挂车及零部件","耐用品：家具及相关产品"],"range":["#5b9bd5","#c4c4c4","#4a78c8","#2e6fae","#767676","#fbe38e","#f08a47","#f7c31d","#c00000","#c0601f","#a88f2c"]},
"legend":{"title":null,"orient":"none","legendX":170,"legendY":-34,"columns":2,"columnPadding":72,"rowPadding":-1.8,"gridAlign":"all","symbolType":"stroke","symbolSize":1024,"symbolStrokeWidth":2,"labelColor":"#ffffff","labelFontSize":11.3,"labelFont":"Noto Sans CJK SC","labelOffset":13.5,"labelLimit":0,"padding":0,
"encode":{"symbols":{"update":{"strokeWidth":{"signal":"datum.value == '耐用品：计算机和电子产品' ? 4.5 : (datum.value == '耐用品：金属制品' ? 2.8 : 2)"}}}}}},
"strokeDash":{"field":"s","type":"nominal","scale":{"domain":["耐用品：木材制品","耐用品：原料金属","耐用品：机械装备","耐用品：电气设备、器具和部件","耐用品：其他运输设备","耐用品：制造业杂项","耐用品：非金属矿产","耐用品：金属制品","耐用品：计算机和电子产品","耐用品：机动车、车身、挂车及零部件","耐用品：家具及相关产品"],"range":[[1,0],[1,0],[6,4],[1,0],[6,5],[1,0],[1,0],[1,0],[11,7],[5,4],[1,0]]},
"legend":{"title":null,"orient":"none","legendX":170,"legendY":-34,"columns":2,"columnPadding":72,"rowPadding":-1.8,"gridAlign":"all","symbolType":"stroke","symbolSize":1024,"labelColor":"#ffffff","labelFontSize":11.3,"labelFont":"Noto Sans CJK SC","labelOffset":13.5,"labelLimit":0,"padding":0}}
},
"layer":[
{"transform":[{"filter":{"field":"s","oneOf":["耐用品：木材制品","耐用品：非金属矿产","耐用品：原料金属","耐用品：电气设备、器具和部件","耐用品：家具及相关产品","耐用品：制造业杂项"]}}],"mark":{"type":"line","strokeWidth":2}},
{"transform":[{"filter":{"field":"s","equal":"耐用品：金属制品"}}],"mark":{"type":"line","strokeWidth":2.8}},
{"transform":[{"filter":{"field":"s","oneOf":["耐用品：机械装备","耐用品：机动车、车身、挂车及零部件","耐用品：其他运输设备"]}}],"mark":{"type":"line","strokeWidth":1.8,"interpolate":"monotone"}},
{"transform":[{"filter":{"field":"s","equal":"耐用品：计算机和电子产品"}}],"mark":{"type":"line","strokeWidth":4.5,"interpolate":"monotone"}}
]
}
